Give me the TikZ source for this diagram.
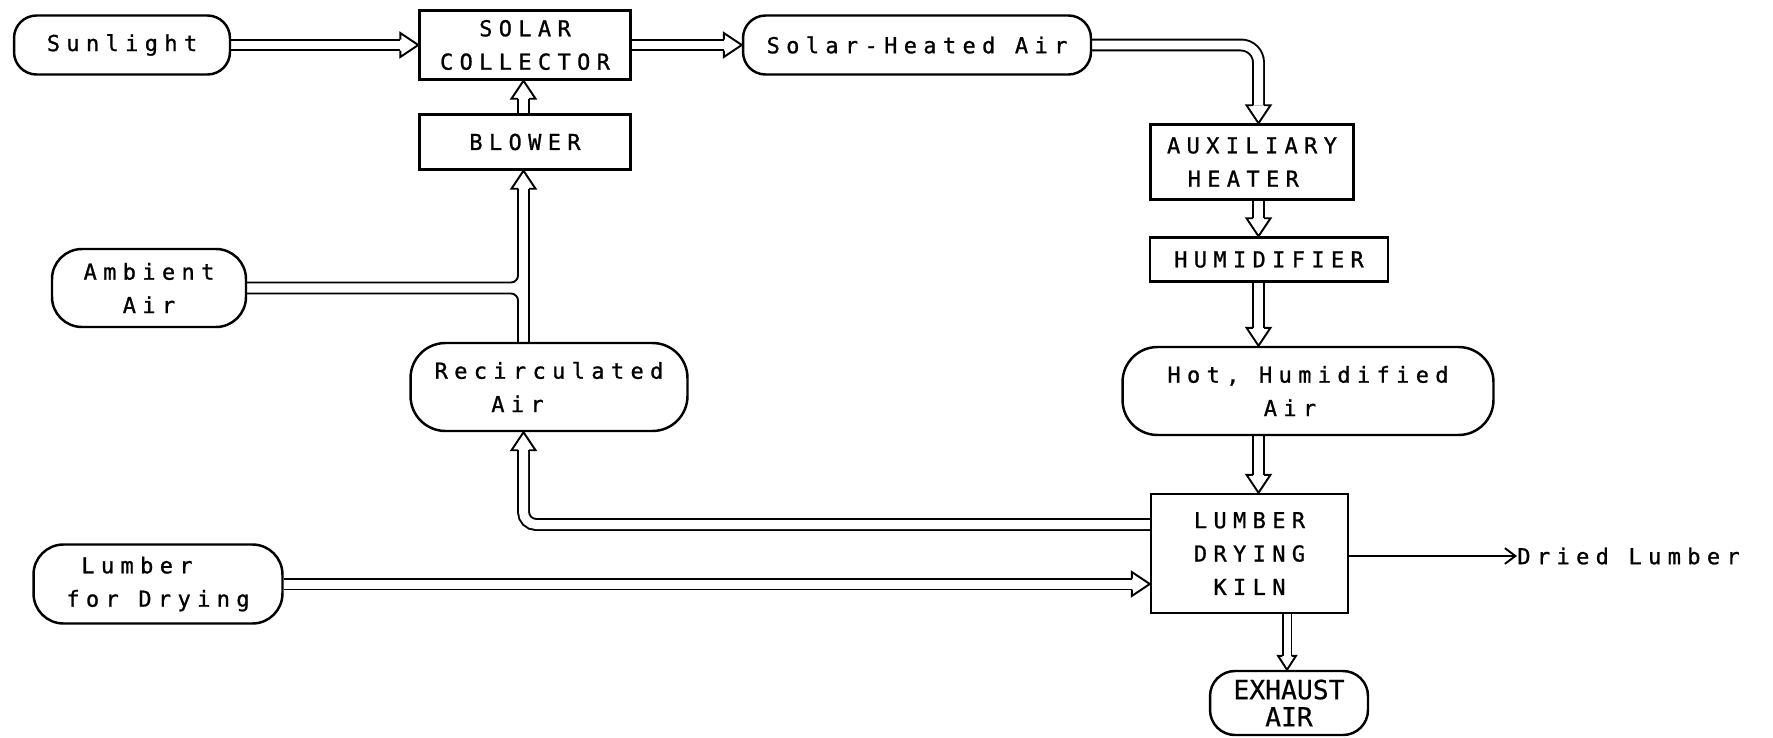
\documentclass[tikz,border=0pt]{standalone}
\usepackage{fontspec}
\usetikzlibrary{calc,arrows.meta,backgrounds}
\newfontfamily\diafont[LetterSpace=29,FakeBold=1]{DejaVu Sans Mono}
\newfontfamily\exfont[FakeBold=0.6]{DejaVu Sans Mono}
\begin{document}
\begin{tikzpicture}[x=0.02cm, y=-0.02cm,
  box/.style={draw, line width=1.4pt, inner sep=0pt, align=center,
    font=\fontsize{12.5}{19}\diafont},
  term/.style={box, rounded corners=#1},
  pipe/.style={double, line width=1.1pt, double distance=0.18cm},
  pipesmall/.style={double, line width=1.1pt, double distance=0.14cm},
  pline/.style={line width=1.1pt},
  ahead/.pic={\draw[line width=1.1pt, line join=miter, miter limit=10]
     (-18,5.5) -- (-18,12) -- (0,0) -- (-18,-12) -- (-18,-5.5);},
  asmall/.pic={\draw[line width=1.1pt, line join=miter, miter limit=10]
     (-14,4.6) -- (-14,9) -- (0,0) -- (-14,-9) -- (-14,-4.6);}
]
\useasboundingbox (0,0) rectangle (1773,737);

% nodes
\node[term=0.45cm, minimum width=4.32cm, minimum height=1.18cm] (sun) at (122,45) {Sunlight};
\node[box, minimum width=4.22cm, minimum height=1.38cm] (col) at (525,45) {SOLAR\\COLLECTOR};
\node[term=0.45cm, minimum width=6.96cm, minimum height=1.18cm] (sha) at (917,45) {Solar-Heated Air};
\node[box, minimum width=4.22cm, minimum height=1.10cm] (blow) at (525,142) {BLOWER};
\node[box, minimum width=4.06cm, minimum height=1.50cm] (aux) at (1252,162) {AUXILIARY\\\hspace*{-0.35cm}HEATER};
\node[box, minimum width=4.76cm, minimum height=0.88cm] (hum) at (1269,259.5) {HUMIDIFIER};
\node[term=0.7cm, minimum width=7.42cm, minimum height=1.76cm] (hot) at (1308,391) {Hot, Humidified\\\hspace*{-0.36cm}Air\hspace*{0.36cm}};
\node[box, minimum width=3.94cm, minimum height=2.38cm] (kiln) at (1249.5,553.5) {LUMBER\\DRYING\\KILN};
\node[term=0.5cm, minimum width=3.16cm, minimum height=1.28cm, font=\fontsize{15}{15.5}\exfont] (exh) at (1289,703) {EXHAUST\\AIR};
\node[term=0.6cm, minimum width=3.88cm, minimum height=1.56cm] (amb) at (149,288) {Ambient\\Air};
\node[term=0.7cm, minimum width=5.54cm, minimum height=1.76cm] (rec) at (549,387) {Recirculated\\\hspace*{-0.63cm}Air\hspace*{0.63cm}};
\node[term=0.6cm, minimum width=4.98cm, minimum height=1.58cm] (lum) at (158,584) {\hspace*{-0.42cm}Lumber\hspace*{0.42cm}\\for Drying};
\node[inner sep=0pt, anchor=west, font=\fontsize{12.5}{19}\diafont] (dried) at (1517,556) {Dried Lumber};

\coordinate (p1) at (1258.5,0);
\coordinate (p2) at (523.5,0);
\coordinate (p3) at (1287,0);

\begin{scope}[on background layer]
% sunlight -> collector
\draw[pipe] (sun.east) -- ($(col.west)+(-18,0)$);
\pic at (col.west) {ahead};
% collector -> solar-heated air
\draw[pipe] (col.east) -- ($(sha.west)+(-18,0)$);
\pic at (sha.west) {ahead};
% solar-heated air -> auxiliary heater
\draw[pipe, rounded corners=0.35cm] (sha.east) -| ($(aux.north -| p1)+(0,-18)$);
\pic[rotate=-90] at (aux.north -| p1) {ahead};
% auxiliary heater -> humidifier
\draw[pipe] (aux.south -| p1) -- ($(hum.north -| p1)+(0,-18)$);
\pic[rotate=-90] at (hum.north -| p1) {ahead};
% humidifier -> hot humidified air
\draw[pipe] (hum.south -| p1) -- ($(hot.north -| p1)+(0,-18)$);
\pic[rotate=-90] at (hot.north -| p1) {ahead};
% hot humidified air -> kiln
\draw[pipe] (hot.south -| p1) -- ($(kiln.north -| p1)+(0,-18)$);
\pic[rotate=-90] at (kiln.north -| p1) {ahead};
% blower -> collector
\draw[pipe] (blow.north -| p2) -- ($(col.south -| p2)+(0,18)$);
\pic[rotate=90] at (col.south -| p2) {ahead};
% recirculated air + ambient air -> blower
\draw[pline] ($(rec.north -| p2)+(5.5,0)$) -- ($(blow.south -| p2)+(5.5,18)$);
\draw[pline, rounded corners=4pt] ($(amb.east)+(0,-5.5)$) -| ($(blow.south -| p2)+(-5.5,18)$);
\draw[pline, rounded corners=4pt] ($(amb.east)+(0,5.5)$) -| ($(rec.north -| p2)+(-5.5,0)$);
\pic[rotate=90] at (blow.south -| p2) {ahead};
% kiln -> recirculated air
\draw[pipe, rounded corners=0.25cm] ($(kiln.west)+(0,-29)$) -| ($(rec.south -| p2)+(0,18)$);
\pic[rotate=90] at (rec.south -| p2) {ahead};
% lumber -> kiln
\draw[pipe] (lum.east) -- ($(lum.east -| kiln.west)+(-18,0)$);
\pic at (lum.east -| kiln.west) {ahead};
% kiln -> exhaust
\draw[pipesmall] (kiln.south -| p3) -- ($(exh.north -| p3)+(0,-14)$);
\pic[rotate=-90] at (exh.north -| p3) {asmall};
\end{scope}
% kiln -> dried lumber
\draw[line width=1.1pt, -{Straight Barb[length=6pt,width=9pt]}] (kiln.east |- dried.west) -- (dried.west);
\end{tikzpicture}
\end{document}
